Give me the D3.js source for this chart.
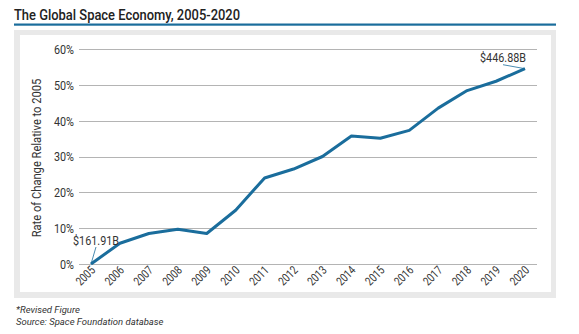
<!DOCTYPE html>
<html lang="en">
    <head>
        <meta charset="UTF-8" />
        <title>The Global Space Economy, 2005-2020</title>
        <script src="https://d3js.org/d3.v7.min.js"></script>
        <style>
            body { margin: 0; background: #fff; }
            .cond { font-family: Roboto, sans-serif; }
            .grid line { stroke: #b4b4b4; stroke-width: 1px; }
        </style>
    </head>
    <body>
        <svg width="579" height="334"></svg>

        <script>
            // data
            const years = [2005, 2006, 2007, 2008, 2009, 2010, 2011, 2012, 2013, 2014, 2015, 2016, 2017, 2018, 2019, 2020];
            const change = [0, 5.8, 8.5, 9.7, 8.5, 15, 24, 26.5, 30, 35.7, 35.1, 37.3, 43.5, 48.4, 51, 54.5];
            const yTicks = [0, 10, 20, 30, 40, 50, 60];
            const notes = [
                { year: 2005, text: '$161.91B' },
                { year: 2020, text: '$446.88B' },
            ];

            const svg = d3.select('svg');
            const blue = '#1a6d9c';
            const sx = 0.8; // squeeze to mimic a condensed face

            // title + rule
            svg.append('text')
                .attr('x', 14).attr('y', 20)
                .attr('fill', '#222')
                .style('font-family', 'Roboto, sans-serif')
                .style('font-weight', 500)
                .style('font-size', '15px')
                .attr('textLength', 226)
                .attr('lengthAdjust', 'spacingAndGlyphs')
                .text('The Global Space Economy, 2005-2020');
            svg.append('rect').attr('x', 14).attr('y', 23.5).attr('width', 542).attr('height', 2.2).attr('fill', blue);

            // panel
            svg.append('rect').attr('x', 14).attr('y', 30).attr('width', 542).attr('height', 268).attr('fill', '#e9e9e9');
            svg.append('rect').attr('x', 20).attr('y', 35).attr('width', 531).attr('height', 257).attr('fill', '#fff');

            const x = d3.scalePoint().domain(years).range([91, 525]);
            const y = d3.scaleLinear().domain([0, 60]).range([264, 49]);

            // gridlines
            svg.append('g').attr('class', 'grid')
                .selectAll('line').data(yTicks).join('line')
                .attr('x1', 79).attr('x2', 537)
                .attr('y1', d => Math.round(y(d)) + 0.5).attr('y2', d => Math.round(y(d)) + 0.5);

            // y axis labels
            svg.append('g').attr('class', 'cond')
                .selectAll('text').data(yTicks).join('text')
                .attr('transform', d => `translate(74,${y(d)}) scale(${sx},1)`)
                .attr('dy', '0.36em')
                .attr('text-anchor', 'end')
                .attr('fill', '#333').style('font-size', '13.5px')
                .text(d => d + '%');

            svg.append('text').attr('class', 'cond')
                .attr('transform', `translate(41,158) rotate(-90) scale(0.86,1)`)
                .attr('text-anchor', 'middle')
                .attr('fill', '#333').style('font-size', '13px')
                .text('Rate of Change Relative to 2005');

            // x axis labels, rotated
            svg.append('g').attr('class', 'cond')
                .selectAll('text').data(years).join('text')
                .attr('transform', d => `translate(${x(d) + 5},${271}) rotate(-45) scale(${sx},1)`)
                .attr('text-anchor', 'end')
                .attr('fill', '#333').style('font-size', '12px')
                .text(d => d);

            // line
            const line = d3.line().x((d, i) => x(years[i])).y(d => y(d));
            svg.append('path')
                .datum(change)
                .attr('d', line)
                .attr('fill', 'none')
                .attr('stroke', blue)
                .attr('stroke-width', 3)
                .attr('stroke-linejoin', 'round');

            // value callouts
            const callouts = svg.append('g').attr('class', 'cond');
            notes.forEach((n, k) => {
                const px = x(n.year), py = y(change[years.indexOf(n.year)]);
                const tx = k === 0 ? px + 5 : px - 22;
                const ty = k === 0 ? py - 24 : py - 12;
                callouts.append('line')
                    .attr('x1', px).attr('y1', py)
                    .attr('x2', k === 0 ? px + 5 : px - 22).attr('y2', k === 0 ? py - 17 : py - 4)
                    .attr('stroke', blue).attr('stroke-width', 0.8);
                callouts.append('text')
                    .attr('transform', `translate(${tx},${ty}) scale(${sx},1)`)
                    .attr('dy', '0.36em')
                    .attr('text-anchor', 'middle')
                    .attr('fill', '#333').style('font-size', '13.5px')
                    .text(n.text);
            });

            // footnotes
            svg.append('g')
                .selectAll('text').data(['*Revised Figure', 'Source: Space Foundation database']).join('text')
                .attr('x', 16).attr('y', (d, i) => 313 + i * 12)
                .attr('fill', '#333')
                .style('font-family', 'Roboto, sans-serif')
                .style('font-style', 'italic')
                .style('font-size', '9.5px')
                .text(d => d);
        </script>
    </body>
</html>
